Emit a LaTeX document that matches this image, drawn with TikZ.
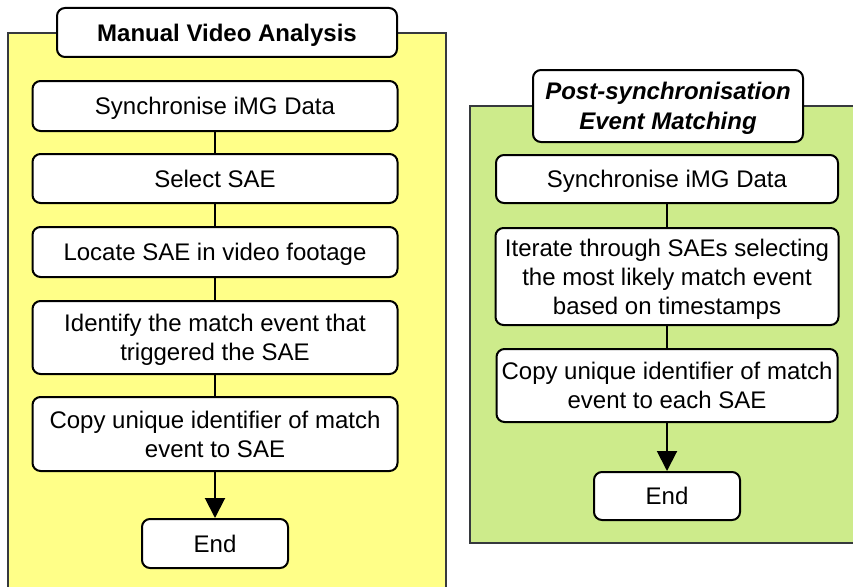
\documentclass[tikz,border=0pt]{standalone}
\usepackage{fontspec}
\setmainfont{Liberation Sans}
\usetikzlibrary{arrows.meta}
\definecolor{manualbg}{HTML}{FFFF88}
\definecolor{matchbg}{HTML}{CDEB8B}
\definecolor{panelline}{HTML}{36393D}
\begin{document}
\begin{tikzpicture}[x=1pt,y=-1pt,
    stage/.style={draw,line width=2pt,rounded corners=8pt,fill=white,align=center,
      inner sep=0pt,text depth=0pt,font=\fontsize{24}{29}\selectfont},
    panel/.style={draw=panelline,line width=2pt},
    link/.style={line width=2pt},
    endlink/.style={link,-{Triangle[width=20pt,length=20pt]}}]
    \clip (0,0) rectangle (853,586);

    % left panel
    \draw[panel,fill=manualbg] (8,33) rectangle (446,600);
    \node[stage,minimum width=340pt,minimum height=49pt,font=\fontsize{24}{29}\selectfont\bfseries]
      (mtitle) at (227,32.5) {Manual Video Analysis};
    \node[stage,minimum width=365pt,minimum height=50pt] (msync) at (215,106) {Synchronise iMG Data};
    \node[stage,minimum width=365pt,minimum height=49pt] (mselect) at (215,178.5) {Select SAE};
    \node[stage,minimum width=365pt,minimum height=50pt] (mlocate) at (215,252) {Locate SAE in video footage};
    \node[stage,minimum width=365pt,minimum height=73pt] (mident) at (215,337.5)
      {Identify the match event that\\triggered the SAE};
    \node[stage,minimum width=365pt,minimum height=74pt] (mcopy) at (215,434)
      {Copy unique identifier of match\\event to SAE};
    \node[stage,minimum width=146pt,minimum height=49pt] (mend) at (215,543.5) {End};
    \draw[link] (msync) -- (mselect);
    \draw[link] (mselect) -- (mlocate);
    \draw[link] (mlocate) -- (mident);
    \draw[link] (mident) -- (mcopy);
    \draw[endlink] (mcopy) -- (mend);

    % right panel
    \draw[panel,fill=matchbg] (470,106) rectangle (870,543);
    \node[stage,minimum width=270pt,minimum height=72pt,font=\fontsize{24}{30}\selectfont\bfseries\itshape]
      (ptitle) at (668,106) {Post-synchronisation\\Event Matching};
    \node[stage,minimum width=342pt,minimum height=48pt] (psync) at (667,179) {Synchronise iMG Data};
    \node[stage,minimum width=343pt,minimum height=97pt] (piter) at (667,276.5)
      {Iterate through SAEs selecting\\the most likely match event\\based on timestamps};
    \node[stage,minimum width=341pt,minimum height=73pt] (pcopy) at (667,385.5)
      {Copy unique identifier of match\\event to each SAE};
    \node[stage,minimum width=146pt,minimum height=48pt] (pend) at (667,496) {End};
    \draw[link] (psync) -- (piter);
    \draw[link] (piter) -- (pcopy);
    \draw[endlink] (pcopy) -- (pend);
\end{tikzpicture}
\end{document}
